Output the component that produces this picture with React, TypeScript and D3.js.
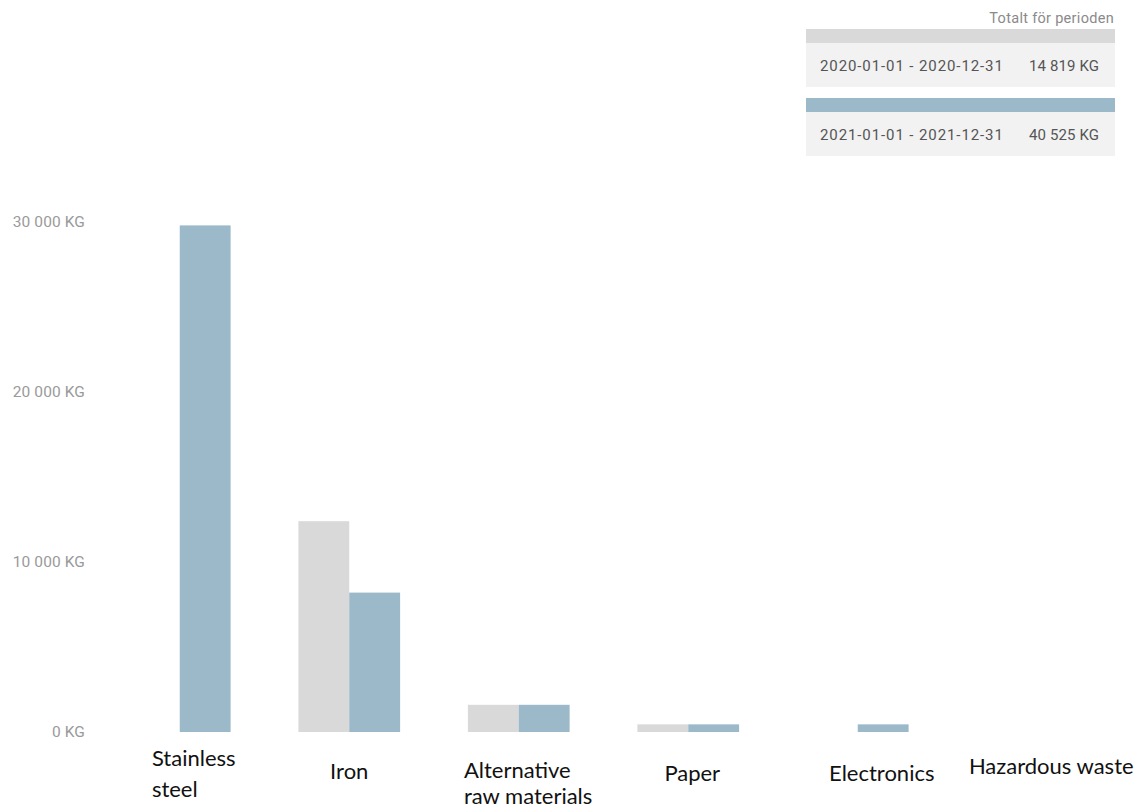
import React, { useRef, useEffect } from 'react';
import * as d3 from 'd3';

// --- Data ---
const categories = ['Stainless steel', 'Iron', 'Alternative raw materials', 'Paper', 'Electronics', 'Hazardous waste'];
const labelLines = [['Stainless', 'steel'], ['Iron'], ['Alternative', 'raw materials'], ['Paper'], ['Electronics'], ['Hazardous waste']];
const series2020 = [0, 12400, 1600, 450, 0, 0];
const series2021 = [29800, 8200, 1600, 450, 450, 0];
const yTicks = [0, 10000, 20000, 30000];
const periods = ['2020-01-01 - 2020-12-31', '2021-01-01 - 2021-12-31'];
const periodTotals = ['14 819 KG', '40 525 KG'];
const seriesColors = ['#d9d9d9', '#9bb9c9'];

const W = 1137;
const H = 809;

const Chart: React.FC = () => {
    const svgRef = useRef<SVGSVGElement>(null);

    useEffect(() => {
        if (!svgRef.current) return;
        const svg = d3.select(svgRef.current);
        svg.selectAll('*').remove();

        const x = d3.scaleBand<string>()
            .domain(categories)
            .range([95, 1112])
            .paddingInner(0.4)
            .paddingOuter(0.2);
        const sub = d3.scaleBand<string>()
            .domain(['2020', '2021'])
            .range([0, x.bandwidth()]);
        const y = d3.scaleLinear().domain([0, 30000]).range([732, 222]);

        // y axis labels (no lines)
        const fmt = (v: number) => d3.format(',')(v).replace(/,/g, ' ') + ' KG';
        svg.append('g').selectAll('text')
            .data(yTicks)
            .join('text')
            .attr('x', 85)
            .attr('y', d => y(d))
            .attr('dy', '0.35em')
            .attr('text-anchor', 'end')
            .attr('font-family', 'Roboto, sans-serif')
            .attr('font-size', 15.5)
            .attr('letter-spacing', '0.1')
            .attr('fill', '#9a9a9a')
            .text(d => fmt(d));

        // bars
        const rows = categories.map((c, i) => ({ c, vals: [series2020[i], series2021[i]] }));
        const g = svg.append('g').selectAll('g')
            .data(rows)
            .join('g')
            .attr('transform', d => `translate(${x(d.c)},0)`);
        g.selectAll('rect')
            .data(d => d.vals.map((v, k) => ({ v, k })))
            .join('rect')
            .filter(d => d.v > 0)
            .attr('x', d => sub(d.k === 0 ? '2020' : '2021')!)
            .attr('width', sub.bandwidth())
            .attr('y', d => y(d.v))
            .attr('height', d => y(0) - y(d.v))
            .attr('fill', d => seriesColors[d.k]);

        // category labels (pasted-over text, loosely placed)
        const labelAnchor = ['start', 'middle', 'start', 'middle', 'middle', 'middle'];
        const labelDx = [23, 0, -4, 4, 24, 24];
        const labelBase = [766, 779, 778, 781, 781, 774];
        const labelGap = [31, 0, 26, 0, 0, 0];
        const lab = svg.append('g').selectAll('text')
            .data(categories.map((c, i) => ({ c, i })))
            .join('text')
            .attr('font-family', 'Lato, "Open Sans", sans-serif')
            .attr('font-size', 22)
            .attr('fill', '#111')
            .attr('text-anchor', d => labelAnchor[d.i])
            .attr('x', d => {
                const base = labelAnchor[d.i] === 'start' ? x(d.c)! : x(d.c)! + x.bandwidth() / 2;
                return base + labelDx[d.i];
            })
            .attr('y', d => labelBase[d.i]);
        lab.selectAll('tspan')
            .data(d => labelLines[d.i].map(t => ({ t, d })))
            .join('tspan')
            .attr('x', function () { return (this.parentNode as SVGTextElement).getAttribute('x'); })
            .attr('dy', (p, j) => (j === 0 ? 0 : labelGap[p.d.i]))
            .text(p => p.t);

        // legend box
        const lg = svg.append('g');
        lg.append('text')
            .attr('x', 1114)
            .attr('y', 18)
            .attr('dy', '0.35em')
            .attr('text-anchor', 'end')
            .attr('font-family', 'Roboto, sans-serif')
            .attr('font-size', 14.5)
            .attr('letter-spacing', '0.3')
            .attr('fill', '#8a8a8a')
            .text('Totalt för perioden');
        const top = [29, 98];
        periods.forEach((p, i) => {
            lg.append('rect').attr('x', 806).attr('y', top[i]).attr('width', 309).attr('height', 14).attr('fill', seriesColors[i]);
            lg.append('rect').attr('x', 806).attr('y', top[i] + 14).attr('width', 309).attr('height', 44).attr('fill', '#f2f2f2');
            lg.append('text')
                .attr('x', 820)
                .attr('y', top[i] + 37)
                .attr('dy', '0.35em')
                .attr('font-family', 'Roboto, sans-serif')
                .attr('font-size', 15)
                .attr('letter-spacing', '0.9')
                .attr('fill', '#555')
                .text(p);
            lg.append('text')
                .attr('x', 1099)
                .attr('y', top[i] + 37)
                .attr('dy', '0.35em')
                .attr('text-anchor', 'end')
                .attr('font-family', 'Roboto, sans-serif')
                .attr('font-size', 15)
                .attr('letter-spacing', '0.1')
                .attr('fill', '#555')
                .text(periodTotals[i]);
        });
    }, []);

    return <svg ref={svgRef} width={W} height={H} style={{ position: 'absolute', left: 0, top: 0, background: '#fff' }} />;
};

export default function App() {
    return <Chart />;
}
